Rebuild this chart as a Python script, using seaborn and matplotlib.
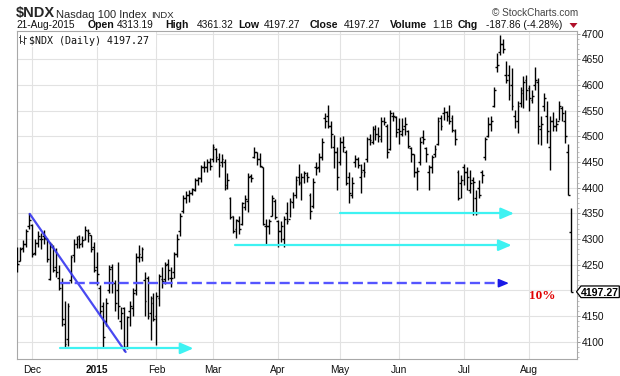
import numpy as np
import pandas as pd
import seaborn as sns
import matplotlib
matplotlib.use("Agg")
import matplotlib.pyplot as plt
from matplotlib import font_manager
from matplotlib.lines import Line2D
from matplotlib.patches import Polygon, Rectangle

# ---------------- data ----------------
holidays = ["2014-11-27", "2014-12-25", "2015-01-01", "2015-01-19",
            "2015-02-16", "2015-04-03", "2015-05-25", "2015-07-03"]
dates = [d for d in pd.bdate_range("2014-11-21", "2015-08-21")
         if d.strftime("%Y-%m-%d") not in holidays]

opens = [4280, 4258, 4282, 4290, 4325,
         4328, 4272, 4292, 4300, 4305, 4300, 4222, 4285, 4245, 4225, 4215, 4135, 4105, 4220, 4268, 4290, 4305, 4292, 4300, 4315, 4308, 4285,
         4245, 4205, 4170, 4140, 4200, 4245, 4215, 4200, 4140, 4165, 4090, 4160, 4165, 4200, 4265, 4265, 4220, 4225, 4155, 4175,
         4150, 4185, 4222, 4222, 4252, 4225, 4235, 4270, 4315, 4355, 4380, 4385, 4390, 4395, 4415, 4418, 4440, 4440, 4450,
         4455, 4475, 4455, 4450, 4450, 4405, 4380, 4345, 4320, 4335, 4330, 4362, 4375, 4422, 4460, 4470, 4455, 4440, 4325, 4325, 4345, 4375,
         4335, 4315, 4300, 4350, 4340, 4372, 4385, 4420, 4410, 4420, 4425, 4385, 4365, 4440, 4440, 4460, 4535, 4540, 4520, 4480, 4470,
         4450, 4490, 4470, 4420, 4385, 4450, 4455, 4420, 4435, 4455, 4495, 4490, 4515, 4505, 4495, 4530, 4520, 4475, 4540, 4538,
         4515, 4505, 4520, 4510, 4478, 4465, 4430, 4450, 4498, 4478, 4430, 4440, 4465, 4485, 4535, 4545, 4548, 4540, 4535, 4510, 4430, 4410,
         4440, 4430, 4395, 4415, 4380, 4400, 4430, 4460, 4500, 4525, 4560, 4635, 4665, 4680, 4620, 4620, 4600, 4540, 4530, 4565, 4585, 4610,
         4595, 4570, 4600, 4605, 4515, 4560, 4540, 4480, 4530, 4520, 4530, 4555, 4530, 4470, 4313.19]
highs = [4285, 4285, 4298, 4320, 4350,
         4330, 4300, 4315, 4312, 4318, 4302, 4295, 4288, 4282, 4249, 4225, 4180, 4175, 4269, 4300, 4305, 4308, 4305, 4325, 4320, 4308, 4295,
         4275, 4210, 4178, 4185, 4250, 4252, 4220, 4255, 4168, 4168, 4150, 4180, 4205, 4272, 4288, 4285, 4236, 4228, 4190, 4195,
         4197, 4232, 4245, 4255, 4262, 4245, 4275, 4310, 4350, 4386, 4393, 4396, 4400, 4418, 4421, 4444, 4452, 4455, 4458,
         4486, 4478, 4467, 4465, 4455, 4428, 4382, 4345, 4340, 4345, 4373, 4386, 4428, 4426, 4480, 4470, 4467, 4441, 4340, 4340, 4385, 4378,
         4338, 4335, 4345, 4373, 4380, 4392, 4422, 4447, 4428, 4432, 4430, 4389, 4418, 4451, 4467, 4496, 4545, 4561, 4530, 4503, 4480,
         4499, 4500, 4473, 4431, 4420, 4464, 4460, 4447, 4450, 4499, 4505, 4520, 4522, 4519, 4538, 4538, 4525, 4551, 4548, 4540,
         4535, 4535, 4538, 4512, 4480, 4465, 4440, 4499, 4512, 4480, 4445, 4464, 4483, 4538, 4541, 4558, 4550, 4561, 4541, 4515, 4434, 4425,
         4447, 4441, 4434, 4420, 4395, 4415, 4434, 4499, 4538, 4540, 4597, 4662, 4698, 4690, 4646, 4640, 4633, 4552, 4568, 4597, 4617, 4620,
         4600, 4590, 4636, 4613, 4540, 4585, 4568, 4539, 4548, 4535, 4568, 4560, 4552, 4486, 4361.32]
lows = [4236, 4258, 4275, 4285, 4320,
        4265, 4268, 4285, 4280, 4290, 4255, 4220, 4236, 4227, 4200, 4130, 4087, 4092, 4214, 4255, 4282, 4282, 4285, 4298, 4295, 4275, 4236,
        4210, 4150, 4087, 4130, 4195, 4195, 4160, 4145, 4125, 4082, 4085, 4130, 4150, 4191, 4256, 4258, 4150, 4145, 4103, 4140,
        4094, 4170, 4205, 4212, 4220, 4207, 4225, 4265, 4305, 4350, 4370, 4373, 4386, 4393, 4405, 4412, 4431, 4431, 4435,
        4450, 4450, 4420, 4440, 4395, 4398, 4340, 4311, 4302, 4310, 4327, 4357, 4353, 4412, 4457, 4445, 4440, 4327, 4290, 4310, 4345, 4340,
        4285, 4295, 4285, 4330, 4343, 4360, 4380, 4405, 4376, 4410, 4412, 4340, 4360, 4425, 4430, 4454, 4516, 4516, 4477, 4438, 4395,
        4445, 4470, 4405, 4370, 4380, 4441, 4438, 4390, 4420, 4451, 4483, 4485, 4493, 4490, 4490, 4522, 4457, 4473, 4530, 4499,
        4486, 4500, 4503, 4477, 4451, 4421, 4395, 4445, 4486, 4451, 4395, 4428, 4460, 4483, 4512, 4532, 4529, 4525, 4509, 4483, 4376, 4379,
        4405, 4395, 4389, 4347, 4347, 4380, 4410, 4454, 4499, 4510, 4558, 4626, 4659, 4662, 4604, 4570, 4552, 4516, 4506, 4558, 4555, 4571,
        4550, 4565, 4590, 4486, 4483, 4550, 4487, 4435, 4510, 4510, 4532, 4530, 4487, 4386, 4197.27]
closes = [4252, 4280, 4290, 4315, 4338,
          4270, 4292, 4305, 4300, 4302, 4262, 4290, 4240, 4235, 4205, 4145, 4095, 4170, 4265, 4290, 4300, 4290, 4298, 4318, 4312, 4280, 4240,
          4232, 4160, 4110, 4175, 4242, 4215, 4175, 4170, 4155, 4090, 4148, 4170, 4195, 4265, 4270, 4280, 4180, 4150, 4185, 4145,
          4190, 4228, 4218, 4250, 4240, 4225, 4270, 4300, 4345, 4380, 4385, 4390, 4398, 4415, 4418, 4440, 4440, 4450, 4442,
          4480, 4460, 4445, 4455, 4400, 4415, 4342, 4315, 4338, 4320, 4370, 4378, 4420, 4418, 4470, 4455, 4442, 4330, 4325, 4335, 4380, 4342,
          4315, 4325, 4340, 4335, 4375, 4385, 4415, 4412, 4420, 4428, 4420, 4355, 4412, 4438, 4460, 4490, 4530, 4520, 4505, 4470, 4420,
          4490, 4480, 4410, 4390, 4410, 4455, 4445, 4430, 4430, 4495, 4492, 4515, 4505, 4500, 4530, 4528, 4470, 4545, 4540, 4508,
          4510, 4515, 4525, 4482, 4465, 4430, 4432, 4490, 4495, 4465, 4440, 4460, 4475, 4530, 4520, 4548, 4540, 4530, 4512, 4495, 4380, 4415,
          4430, 4420, 4410, 4412, 4350, 4385, 4425, 4495, 4525, 4530, 4590, 4640, 4680, 4670, 4610, 4580, 4560, 4530, 4560, 4590, 4605, 4590,
          4575, 4578, 4610, 4520, 4525, 4575, 4510, 4530, 4520, 4525, 4560, 4545, 4500, 4385.13, 4197.27]

price_ticks = list(range(4100, 4701, 50))
month_labels = ["Dec", "2015", "Feb", "Mar", "Apr", "May", "Jun", "Jul", "Aug"]

# hand-drawn annotations (trading-day position, price)
trend_pos = [4.2, 36.6]
trend_val = [4349, 4080]
support_levels = [4087, 4288, 4350]
support_start = [14.4, 73.5, 109.0]
support_end = [59.5, 167.0, 167.8]
dashed_level = 4214
dashed_start, dashed_end = 14.4, 166.1
pct_label_pos, pct_label_val = 172.8, 4184

df = pd.DataFrame({"date": dates, "open": opens, "high": highs,
                   "low": lows, "close": closes})
df["pos"] = np.arange(len(df))

# ---------------- style ----------------
sns.set_style("white")
names = {f.name for f in font_manager.fontManager.ttflist}
narrow = "Liberation Sans Narrow" if "Liberation Sans Narrow" in names else "Liberation Sans"
plt.rcParams["font.family"] = ["Liberation Sans", "DejaVu Sans"]

W, H = 620, 376
fig = plt.figure(figsize=(W / 100, H / 100), dpi=100)
L, R, T, B = 16.5, 576.5, 30.5, 359.0
ax = fig.add_axes([L / W, 1 - B / H, (R - L) / W, (B - T) / H])

def fx(px):
    return px / W

def fy(py):
    return 1 - py / H

# ---------------- OHLC bars ----------------
tick_w = 0.62
ax.vlines(df["pos"], df["low"], df["high"], color="black", lw=1.0, zorder=3)
ax.hlines(df["open"], df["pos"] - tick_w, df["pos"], color="black", lw=1.0, zorder=3)
ax.hlines(df["close"], df["pos"], df["pos"] + tick_w, color="black", lw=1.0, zorder=3)

# ---------------- annotations ----------------
trend_df = pd.DataFrame({"x": trend_pos, "y": trend_val})
sns.lineplot(data=trend_df, x="x", y="y", ax=ax, color="#3535f0", lw=1.6,
             alpha=0.9, zorder=4, legend=False)

cyan = "#3ef2f2"
for lvl, s, e in zip(support_levels, support_start, support_end):
    sdf = pd.DataFrame({"x": [s, e - 2.0], "y": [lvl, lvl]})
    sns.lineplot(data=sdf, x="x", y="y", ax=ax, color=cyan, lw=1.6, zorder=4,
                 legend=False)
    ax.annotate("", xy=(e, lvl), xytext=(e - 3.0, lvl),
                arrowprops=dict(arrowstyle="-|>,head_length=0.65,head_width=0.28",
                                mutation_scale=12, color=cyan, lw=1.6,
                                shrinkA=0, shrinkB=0), zorder=4)

ddf = pd.DataFrame({"x": [dashed_start, dashed_end - 2.0], "y": [dashed_level] * 2})
sns.lineplot(data=ddf, x="x", y="y", ax=ax, color="#5555ff", lw=1.7, zorder=4,
             legend=False)
ax.lines[-1].set_dashes([4.3, 1.9])
ax.annotate("", xy=(dashed_end, dashed_level), xytext=(dashed_end - 2.5, dashed_level),
            arrowprops=dict(arrowstyle="-|>,head_length=0.6,head_width=0.25",
                            mutation_scale=10, color="#1a1ae6", lw=1.2,
                            shrinkA=0, shrinkB=0), zorder=4)

ax.text(pct_label_pos, pct_label_val, "10%", color="#e00000", fontsize=9.5,
        fontweight="bold", family=["Liberation Serif", "DejaVu Serif"],
        ha="left", va="baseline", zorder=5)

# ---------------- axes ----------------
y_top = 4100 + (341.7 - T) / 0.5133
y_bot = 4100 - (B - 341.7) / 0.5133
ax.set_ylim(y_bot, y_top)
ax.set_xlim((L - 17.3) / 2.96, (R - 17.3) / 2.96)
ax.set_xlabel("")
ax.set_ylabel("")

month_first = df.groupby(df["date"].dt.to_period("M"))["pos"].min().values[1:]
ax.set_xticks(month_first)
ax.set_xticklabels(month_labels)
ax.set_xticks(df["pos"].values, minor=True)
ax.set_yticks(price_ticks)
ax.set_yticklabels(["" if v == 4200 else str(v) for v in price_ticks])
ax.set_yticks(list(range(4070, 4706, 10)), minor=True)
ax.yaxis.tick_right()
ax.grid(True, which="major", color="#e2e2e2", lw=0.8)
ax.set_axisbelow(True)
ax.tick_params(axis="y", which="major", length=2.5, width=0.6, color="#888888",
               pad=1.5, labelsize=7.3, labelcolor="#111111")
ax.tick_params(axis="y", which="minor", length=1.3, width=0.5, color="#aaaaaa")
ax.tick_params(axis="x", which="major", length=0, pad=4.0, labelsize=7.3,
               labelcolor="#111111")
ax.tick_params(axis="x", which="minor", length=1.2, width=0.5, color="#bbbbbb")
for lab in ax.get_xticklabels():
    if lab.get_text() == "2015":
        lab.set_fontweight("bold")
for sp in ax.spines.values():
    sp.set_color("#a8a8a8")
    sp.set_linewidth(0.8)

# legend box inside the plot
ax.add_patch(Rectangle((fx(L + 0.5), fy(46.5)), fx(156) - fx(L + 0.5), fy(T + 0.5) - fy(46.5),
                       transform=fig.transFigure, facecolor="white", edgecolor="none",
                       zorder=1))
for (x0, y0, y1, yo, yc) in [(20, 35, 43, 37, 41), (24, 36, 44, 42, 38)]:
    fig.add_artist(Line2D([fx(x0), fx(x0)], [fy(y0), fy(y1)], color="#333333", lw=0.7))
    fig.add_artist(Line2D([fx(x0 - 1.5), fx(x0)], [fy(yo), fy(yo)], color="#333333", lw=0.7))
    fig.add_artist(Line2D([fx(x0), fx(x0 + 1.5)], [fy(yc), fy(yc)], color="#333333", lw=0.7))
fig.text(fx(29), fy(43.5), "$NDX (Daily) 4197.27", fontsize=7.2,
         family=["DejaVu Sans Mono", "DejaVu Sans"], color="#111111", va="baseline")

# last price tag
fig.canvas.draw()
yc = ax.transData.transform((0, closes[-1]))[1]
yc_px = H - yc
tag = Polygon([(fx(R), fy(yc_px)), (fx(R + 4.5), fy(yc_px - 5.8)), (fx(619.3), fy(yc_px - 5.8)),
               (fx(619.3), fy(yc_px + 5.8)), (fx(R + 4.5), fy(yc_px + 5.8))],
              closed=True, transform=fig.transFigure, facecolor="white",
              edgecolor="black", lw=0.9)
fig.add_artist(tag)
fig.text(fx(599.5), fy(yc_px), f"{closes[-1]:.2f}", fontsize=7.6, fontweight="bold",
         ha="center", va="center_baseline", color="black")

# ---------------- header ----------------
fig.text(fx(16), fy(17.5), "$NDX", fontsize=10.5, fontweight="bold",
         family=[narrow, "DejaVu Sans"], va="baseline")
fig.text(fx(56), fy(17.5), "Nasdaq 100 Index", fontsize=8.0,
         family=[narrow, "DejaVu Sans"], va="baseline")
fig.text(fx(151), fy(17.5), "INDX", fontsize=6.8, va="baseline")
fig.text(fx(578), fy(16.5), "\u00a9 StockCharts.com", fontsize=7.2, color="#444444",
         ha="right", va="baseline")

row2 = [(16, "21-Aug-2015", False), (88, "Open", True), (117, "4313.19", False),
        (165, "High", True), (197, "4361.32", False), (238, "Low", True),
        (264, "4197.27", False), (310, "Close", True), (344, "4197.27", False),
        (390, "Volume", True), (432, "1.1B", False), (458, "Chg", True),
        (486, "-187.86 (-4.28%)", False)]
for x, s, b in row2:
    fig.text(fx(x), fy(28.0), s, fontsize=7.6 if b else 7.3,
             fontweight="bold" if b else "normal", va="baseline", color="#111111")
fig.add_artist(Polygon([(fx(569.5), fy(23)), (fx(577.5), fy(23)), (fx(573.5), fy(28))],
                       closed=True, transform=fig.transFigure, facecolor="#b0102a",
                       edgecolor="none"))

fig.savefig("out.png", dpi=100)
